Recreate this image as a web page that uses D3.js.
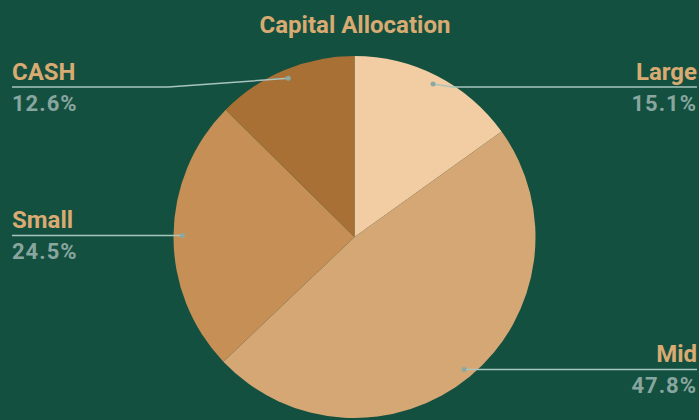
<!DOCTYPE html>
<html>
<head>
<meta charset="utf-8">
<script src="https://cdn.jsdelivr.net/npm/d3@7"></script>
<style>
  body { margin: 0; background: #14503f; }
  svg { display: block; font-family: Roboto, "Open Sans", sans-serif; }
</style>
</head>
<body>
<svg width="699" height="420"></svg>
<script>
var categories = ["Large", "Mid", "Small", "CASH"];
var values = [15.1, 47.8, 24.5, 12.6];
var colors = ["#f2cda4", "#d5a775", "#c68f55", "#a87035"];
var sides = ["right", "right", "left", "left"];

var svg = d3.select("svg"),
    width = +svg.attr("width"),
    height = +svg.attr("height");

var cx = 354.5, cy = 237, r = 181;

svg.append("rect").attr("width", width).attr("height", height).attr("fill", "#14503f");

svg.append("text")
    .attr("x", 355).attr("y", 33)
    .attr("text-anchor", "middle")
    .attr("fill", "#d9aa72")
    .attr("font-size", 24)
    .attr("font-weight", "bold")
    .text("Capital Allocation");

var data = categories.map(function(c, i) {
    return {name: c, value: values[i], color: colors[i], side: sides[i]};
});

var pie = d3.pie().sort(null).value(function(d) { return d.value; });
var arc = d3.arc().innerRadius(0).outerRadius(r);
var labelArc = d3.arc().innerRadius(r * 0.95).outerRadius(r * 0.95);

var arcs = pie(data);

var g = svg.append("g").attr("transform", "translate(" + cx + "," + cy + ")");
g.selectAll("path")
    .data(arcs)
    .enter().append("path")
    .attr("d", arc)
    .attr("fill", function(d) { return d.data.color; });

var labels = svg.append("g");
arcs.forEach(function(d) {
    var p = labelArc.centroid(d);
    var px = p[0] + cx, py = p[1] + cy;
    var ly = Math.max(py, 87);
    var right = d.data.side == "right";
    var edge = right ? 697 : 12;
    var elbow = right ? px + 20 : px - 120;
    if (Math.abs(ly - py) < 1) elbow = px;

    labels.append("path")
        .attr("d", "M" + edge + "," + ly + "L" + elbow + "," + ly + "L" + px + "," + py)
        .attr("fill", "none")
        .attr("stroke", "#a9c3bd")
        .attr("stroke-width", 1.5);
    labels.append("circle")
        .attr("cx", px).attr("cy", py).attr("r", 2.5)
        .attr("fill", "#8aa9a2");

    labels.append("text")
        .attr("x", edge).attr("y", ly - 7)
        .attr("text-anchor", right ? "end" : "start")
        .attr("fill", "#d9aa72")
        .attr("font-size", 24)
        .attr("font-weight", "bold")
        .text(d.data.name);
    labels.append("text")
        .attr("x", edge).attr("y", ly + 24)
        .attr("text-anchor", right ? "end" : "start")
        .attr("fill", "#88a69f")
        .attr("font-size", 22)
        .attr("font-weight", "bold")
        .attr("letter-spacing", 1)
        .text(d.data.value.toFixed(1) + "%");
});
</script>
</body>
</html>
